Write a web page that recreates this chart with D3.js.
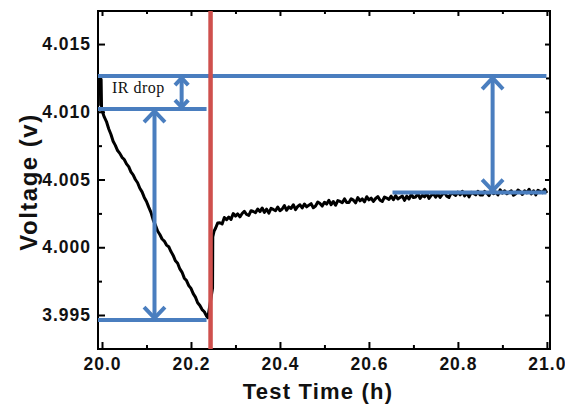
<!DOCTYPE html>
<html>
<head>
<meta charset="utf-8">
<script src="https://cdn.jsdelivr.net/npm/d3@7"></script>
<style>
  body { margin: 0; background: #fff; }
  text { font-family: "Liberation Sans", Arial, sans-serif; }
</style>
</head>
<body>
<svg id="container"></svg>
<script>
// discharge part: spike at rest end, then voltage falls under load
const dropTime = [19.996, 19.997, 19.998, 19.999, 20.001, 20.005, 20.010, 20.015, 20.020, 20.025,
                  20.030, 20.035, 20.040, 20.045, 20.050, 20.055, 20.060, 20.065, 20.070, 20.075,
                  20.080, 20.085, 20.090, 20.095, 20.100, 20.105, 20.110, 20.115, 20.120, 20.125,
                  20.130, 20.135, 20.140, 20.145, 20.150, 20.155, 20.160, 20.165, 20.170, 20.175,
                  20.180, 20.185, 20.190, 20.195, 20.200, 20.205, 20.210, 20.215, 20.220, 20.225,
                  20.230, 20.235, 20.238];
const dropVolt = [4.01265, 4.01050, 4.01240, 4.01020, 4.01000, 4.00962, 4.00928, 4.00875, 4.00834, 4.00782,
                  4.00752, 4.00714, 4.00693, 4.00664, 4.00648, 4.00616, 4.00595, 4.00556, 4.00534, 4.00500,
                  4.00476, 4.00436, 4.00409, 4.00368, 4.00338, 4.00296, 4.00258, 4.00202, 4.00164, 4.00120,
                  4.00094, 4.00061, 4.00046, 4.00016, 4.00004, 3.99968, 3.99940, 3.99900, 3.99882, 3.99840,
                  3.99815, 3.99772, 3.99754, 3.99717, 3.99696, 3.99658, 3.99632, 3.99590, 3.99570, 3.99540,
                  3.99524, 3.99492, 3.99480];

// relaxation part after the current is switched off
const relaxTime = [20.2485, 20.249, 20.252,
  20.255, 20.260, 20.265, 20.270, 20.275, 20.280, 20.285, 20.290, 20.295, 20.300,
  20.305, 20.310, 20.315, 20.320, 20.325, 20.330, 20.335, 20.340, 20.345, 20.350,
  20.355, 20.360, 20.365, 20.370, 20.375, 20.380, 20.385, 20.390, 20.395, 20.400,
  20.405, 20.410, 20.415, 20.420, 20.425, 20.430, 20.435, 20.440, 20.445, 20.450,
  20.455, 20.460, 20.465, 20.470, 20.475, 20.480, 20.485, 20.490, 20.495, 20.500,
  20.505, 20.510, 20.515, 20.520, 20.525, 20.530, 20.535, 20.540, 20.545, 20.550,
  20.555, 20.560, 20.565, 20.570, 20.575, 20.580, 20.585, 20.590, 20.595, 20.600,
  20.605, 20.610, 20.615, 20.620, 20.625, 20.630, 20.635, 20.640, 20.645, 20.650,
  20.655, 20.660, 20.665, 20.670, 20.675, 20.680, 20.685, 20.690, 20.695, 20.700,
  20.705, 20.710, 20.715, 20.720, 20.725, 20.730, 20.735, 20.740, 20.745, 20.750,
  20.755, 20.760, 20.765, 20.770, 20.775, 20.780, 20.785, 20.790, 20.795, 20.800,
  20.805, 20.810, 20.815, 20.820, 20.825, 20.830, 20.835, 20.840, 20.845, 20.850,
  20.855, 20.860, 20.865, 20.870, 20.875, 20.880, 20.885, 20.890, 20.895, 20.900,
  20.905, 20.910, 20.915, 20.920, 20.925, 20.930, 20.935, 20.940, 20.945, 20.950,
  20.955, 20.960, 20.965, 20.970, 20.975, 20.980, 20.985, 20.990, 20.995, 21.000];
const relaxVolt = [3.99700, 4.00076, 4.00120,
  4.00138, 4.00179, 4.00181, 4.00172, 4.00220, 4.00203, 4.00223, 4.00206, 4.00249, 4.00230,
  4.00246, 4.00224, 4.00249, 4.00266, 4.00242, 4.00235, 4.00270, 4.00264, 4.00256, 4.00282,
  4.00263, 4.00290, 4.00257, 4.00281, 4.00252, 4.00287, 4.00279, 4.00270, 4.00297, 4.00270,
  4.00282, 4.00308, 4.00273, 4.00298, 4.00287, 4.00314, 4.00278, 4.00301, 4.00314, 4.00290,
  4.00319, 4.00298, 4.00311, 4.00322, 4.00292, 4.00304, 4.00334, 4.00323, 4.00304, 4.00332,
  4.00319, 4.00346, 4.00314, 4.00338, 4.00310, 4.00345, 4.00338, 4.00329, 4.00357, 4.00330,
  4.00331, 4.00358, 4.00348, 4.00328, 4.00367, 4.00343, 4.00357, 4.00335, 4.00373, 4.00350,
  4.00363, 4.00338, 4.00360, 4.00374, 4.00347, 4.00338, 4.00371, 4.00363, 4.00353, 4.00377,
  4.00351, 4.00381, 4.00356, 4.00368, 4.00378, 4.00346, 4.00377, 4.00356, 4.00391, 4.00367,
  4.00371, 4.00396, 4.00360, 4.00384, 4.00372, 4.00398, 4.00361, 4.00383, 4.00395, 4.00370,
  4.00393, 4.00368, 4.00390, 4.00404, 4.00377, 4.00368, 4.00401, 4.00393, 4.00383, 4.00407,
  4.00387, 4.00413, 4.00379, 4.00402, 4.00372, 4.00406, 4.00397, 4.00387, 4.00413, 4.00385,
  4.00385, 4.00412, 4.00401, 4.00381, 4.00419, 4.00395, 4.00408, 4.00386, 4.00424, 4.00400,
  4.00417, 4.00395, 4.00406, 4.00416, 4.00384, 4.00395, 4.00423, 4.00410, 4.00390, 4.00417,
  4.00402, 4.00428, 4.00394, 4.00417, 4.00387, 4.00421, 4.00412, 4.00403, 4.00428, 4.00400];

const xTicks = [20.0, 20.2, 20.4, 20.6, 20.8, 21.0];
const xMinor = [20.1, 20.3, 20.5, 20.7, 20.9];
const yTicks = [3.995, 4.000, 4.005, 4.010, 4.015];
const yMinor = [3.9975, 4.0025, 4.0075, 4.0125];

// annotation guides (blue) and the current-off marker (red)
const guides = [
    { t0: 19.991, t1: 20.999, v: 4.01264 },
    { t0: 19.991, t1: 20.235, v: 4.01020 },
    { t0: 19.991, t1: 20.235, v: 3.99463 },
    { t0: 20.653, t1: 20.999, v: 4.00404 }
];
const arrows = [
    { t: 20.179, v0: 4.01264, v1: 4.01020, head: 'small' },
    { t: 20.118, v0: 4.01020, v1: 3.99463, head: 'big' },
    { t: 20.878, v0: 4.01264, v1: 4.00404, head: 'big' }
];
const switchTime = 20.244;

const width = 565;
const height = 404;
const margin = { top: 11, right: 15, bottom: 55, left: 98 };
const blue = '#4a7ebf';
const red = '#cf504d';

const x = d3.scaleLinear().domain([19.991, 21.007]).range([margin.left, width - margin.right]);
const y = d3.scaleLinear().domain([3.99249, 4.01744]).range([height - margin.bottom, margin.top]);

const svg = d3.select('#container')
    .attr('width', width)
    .attr('height', height);

// arrow heads
const heads = { small: 7, big: 11 };
Object.keys(heads).forEach(function(key) {
    const s = heads[key];
    svg.append('marker')
        .attr('id', 'head-' + key)
        .attr('viewBox', (-s - 4) + ' ' + (-s - 4) + ' ' + (2 * s + 8) + ' ' + (2 * s + 8))
        .attr('markerUnits', 'userSpaceOnUse')
        .attr('markerWidth', 2 * s + 8)
        .attr('markerHeight', 2 * s + 8)
        .attr('refX', 2)
        .attr('refY', 0)
        .attr('orient', 'auto-start-reverse')
        .append('path')
        .attr('d', 'M' + (-s) + ',' + (-s * 0.95) + 'L0,0L' + (-s) + ',' + (s * 0.95))
        .attr('fill', 'none')
        .attr('stroke', blue)
        .attr('stroke-width', 4);
});

// axes, ticks pointing inward on all four sides
function styleAxis(g) {
    g.select('.domain').remove();
    g.selectAll('.tick line').attr('stroke', '#000').attr('stroke-width', 2);
    g.selectAll('.tick text')
        .attr('fill', '#111')
        .style('font-size', '17.5px')
        .style('font-weight', 'bold')
        .style('letter-spacing', '1px');
}

const bottom = height - margin.bottom;
const right = width - margin.right;

svg.append('g').attr('transform', 'translate(0,' + bottom + ')')
    .call(d3.axisBottom(x).tickValues(xTicks).tickSize(-7).tickPadding(9).tickFormat(d3.format('.1f')))
    .call(styleAxis);
svg.append('g').attr('transform', 'translate(0,' + bottom + ')')
    .call(d3.axisBottom(x).tickValues(xMinor).tickSize(-4).tickFormat(''))
    .call(styleAxis);
svg.append('g').attr('transform', 'translate(' + margin.left + ',0)')
    .call(d3.axisLeft(y).tickValues(yTicks).tickSize(-7).tickPadding(7).tickFormat(d3.format('.3f')))
    .call(styleAxis);
svg.append('g').attr('transform', 'translate(' + margin.left + ',0)')
    .call(d3.axisLeft(y).tickValues(yMinor).tickSize(-4).tickFormat(''))
    .call(styleAxis);
svg.append('g').attr('transform', 'translate(0,' + margin.top + ')')
    .call(d3.axisTop(x).tickValues(xTicks).tickSize(-5).tickFormat(''))
    .call(styleAxis);
svg.append('g').attr('transform', 'translate(0,' + margin.top + ')')
    .call(d3.axisTop(x).tickValues(xMinor).tickSize(-3).tickFormat(''))
    .call(styleAxis);
svg.append('g').attr('transform', 'translate(' + right + ',0)')
    .call(d3.axisRight(y).tickValues(yTicks).tickSize(-5).tickFormat(''))
    .call(styleAxis);
svg.append('g').attr('transform', 'translate(' + right + ',0)')
    .call(d3.axisRight(y).tickValues(yMinor).tickSize(-4).tickFormat(''))
    .call(styleAxis);

svg.append('rect')
    .attr('x', margin.left)
    .attr('y', margin.top)
    .attr('width', right - margin.left)
    .attr('height', bottom - margin.top)
    .attr('fill', 'none')
    .attr('stroke', '#000')
    .attr('stroke-width', 2);

// voltage trace
const points = dropTime.map((t, i) => [t, dropVolt[i]])
    .concat(relaxTime.map((t, i) => [t, relaxVolt[i]]));
const line = d3.line().x(d => x(d[0])).y(d => y(d[1]));

svg.append('path')
    .datum(points)
    .attr('d', line)
    .attr('fill', 'none')
    .attr('stroke', '#000')
    .attr('stroke-width', 3)
    .attr('stroke-linejoin', 'round');

// guides
svg.selectAll('line.guide')
    .data(guides)
    .enter()
    .append('line')
    .attr('class', 'guide')
    .attr('x1', d => x(d.t0))
    .attr('x2', d => x(d.t1))
    .attr('y1', d => y(d.v))
    .attr('y2', d => y(d.v))
    .attr('stroke', blue)
    .attr('stroke-width', 4);

svg.selectAll('line.arrow')
    .data(arrows)
    .enter()
    .append('line')
    .attr('class', 'arrow')
    .attr('x1', d => x(d.t))
    .attr('x2', d => x(d.t))
    .attr('y1', d => y(d.v0))
    .attr('y2', d => y(d.v1))
    .attr('stroke', blue)
    .attr('stroke-width', 4)
    .attr('marker-start', d => 'url(#head-' + d.head + ')')
    .attr('marker-end', d => 'url(#head-' + d.head + ')');

svg.append('line')
    .attr('x1', x(switchTime))
    .attr('x2', x(switchTime))
    .attr('y1', margin.top)
    .attr('y2', bottom)
    .attr('stroke', red)
    .attr('stroke-width', 4.5);

svg.append('text')
    .attr('x', 112)
    .attr('y', 93)
    .text('IR drop')
    .style('font-family', '"Liberation Serif", "Times New Roman", serif')
    .style('font-size', '16px')
    .style('letter-spacing', '0.5px')
    .attr('fill', '#111');

// axis titles
svg.append('text')
    .attr('x', 318)
    .attr('y', 399)
    .attr('text-anchor', 'middle')
    .text('Test Time (h)')
    .style('font-size', '22px')
    .style('font-weight', 'bold')
    .style('letter-spacing', '1.2px')
    .attr('fill', '#111');

svg.append('text')
    .attr('transform', 'translate(37,182) rotate(-90)')
    .attr('text-anchor', 'middle')
    .text('Voltage (v)')
    .style('font-size', '24px')
    .style('font-weight', 'bold')
    .style('letter-spacing', '1.5px')
    .attr('fill', '#111');
</script>
</body>
</html>
